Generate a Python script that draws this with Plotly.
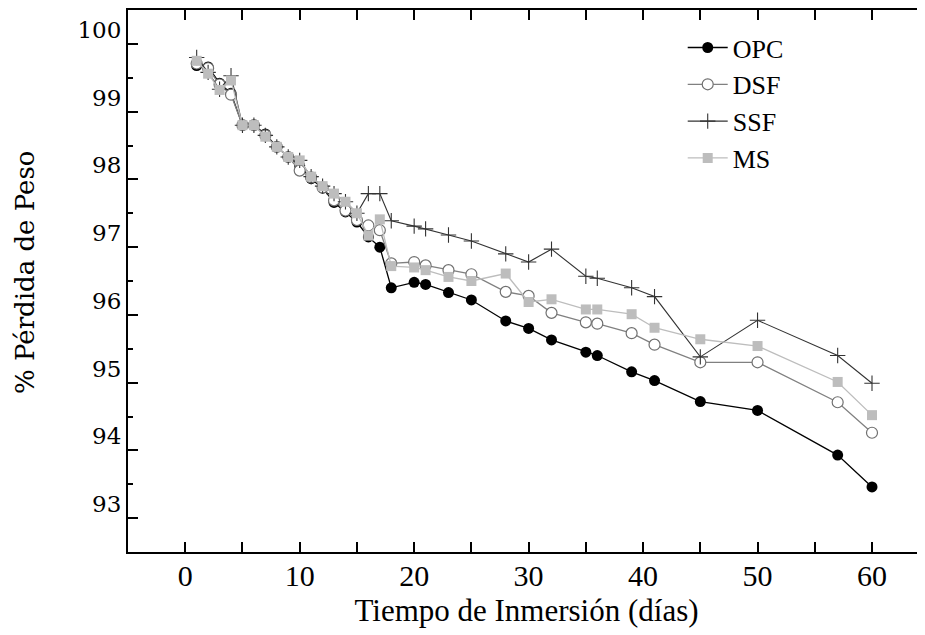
import plotly.graph_objects as go

dias = [1, 2, 3, 4, 5, 6, 7, 8, 9, 10, 11, 12, 13, 14, 15, 16, 17, 18, 20, 21, 23, 25,
        28, 30, 32, 35, 36, 39, 41, 45, 50, 57, 60]

opc = [99.68, 99.66, 99.42, 99.27, 98.80, 98.80, 98.67, 98.48, 98.33, 98.20, 98.01, 97.87,
       97.66, 97.52, 97.37, 97.15, 97.00, 96.40, 96.48, 96.45, 96.33, 96.22,
       95.91, 95.80, 95.63, 95.45, 95.40, 95.16, 95.03, 94.72, 94.59, 93.93, 93.46]
dsf = [99.71, 99.64, 99.40, 99.25, 98.80, 98.80, 98.65, 98.48, 98.33, 98.13, 98.03, 97.88,
       97.69, 97.54, 97.40, 97.32, 97.25, 96.76, 96.78, 96.73, 96.66, 96.60,
       96.34, 96.28, 96.03, 95.89, 95.87, 95.73, 95.56, 95.30, 95.30, 94.71, 94.26]
ssf = [99.80, 99.58, 99.33, 99.53, 98.80, 98.80, 98.65, 98.48, 98.33, 98.28, 98.04, 97.90,
       97.79, 97.67, 97.50, 97.79, 97.79, 97.39, 97.31, 97.27, 97.18, 97.09,
       96.90, 96.78, 96.97, 96.57, 96.54, 96.40, 96.27, 95.38, 95.92, 95.40, 94.99]
ms = [99.75, 99.56, 99.32, 99.46, 98.80, 98.80, 98.63, 98.48, 98.33, 98.28, 98.04, 97.90,
      97.79, 97.67, 97.50, 97.17, 97.41, 96.72, 96.70, 96.66, 96.56, 96.50,
      96.61, 96.19, 96.23, 96.08, 96.08, 96.01, 95.81, 95.64, 95.54, 95.01, 94.52]

series_names = ["OPC", "DSF", "SSF", "MS"]
x_title = "Tiempo de Inmersión (días)"
y_title = "% Pérdida de Peso"

SERIF = "Liberation Serif, Times New Roman, Times, serif"
WIDE_SERIF = "DejaVu Serif, Bitstream Vera Serif, serif"

fig = go.Figure()
fig.add_trace(go.Scatter(x=dias, y=opc, name=series_names[0], mode="lines+markers",
                         line=dict(color="black", width=1.3),
                         marker=dict(symbol="circle", size=11, color="black")))
fig.add_trace(go.Scatter(x=dias, y=dsf, name=series_names[1], mode="lines+markers",
                         line=dict(color="#808080", width=1.3),
                         marker=dict(symbol="circle", size=11, color="white",
                                     line=dict(color="#707070", width=1.2))))
fig.add_trace(go.Scatter(x=dias, y=ssf, name=series_names[2], mode="lines+markers",
                         line=dict(color="#333333", width=1.1),
                         marker=dict(symbol="cross-thin", size=11, color="#333333",
                                     line=dict(color="#333333", width=1.1))))
fig.add_trace(go.Scatter(x=dias, y=ms, name=series_names[3], mode="lines+markers",
                         line=dict(color="#bdbdbd", width=1.3),
                         marker=dict(symbol="square", size=10, color="#bdbdbd")))
# empty helper trace so the right-hand tick axis is drawn
fig.add_trace(go.Scatter(x=[], y=[], yaxis="y2", showlegend=False, hoverinfo="skip"))

yr = [92.5, 100.5]
fig.update_layout(
    width=917, height=627,
    margin=dict(l=120, r=0, t=2, b=83, autoexpand=False),
    paper_bgcolor="white", plot_bgcolor="white",
    showlegend=True,
    legend=dict(x=0.696, y=0.974, xanchor="left", yanchor="top",
                font=dict(family=SERIF, size=26, color="black"),
                bgcolor="rgba(0,0,0,0)", itemwidth=40, tracegroupgap=0),
    xaxis=dict(range=[-5, 64.63], tickmode="array", tickvals=[0, 10, 20, 30, 40, 50, 60],
               ticks="inside", ticklen=10, tickwidth=1.5, tickcolor="black",
               minor=dict(tickvals=[5, 15, 25, 35, 45, 55], ticks="inside", ticklen=5,
                          tickwidth=1.5, tickcolor="black"),
               showline=True, linecolor="black", linewidth=2, mirror="allticks",
               showgrid=False, zeroline=False, automargin=False, ticklabelstandoff=-4,
               tickfont=dict(family=SERIF, size=30, color="black"),
               title=dict(text=x_title, standoff=8,
                          font=dict(family=SERIF, size=31, color="black"))),
    yaxis=dict(range=yr, tickmode="array", tickvals=[93, 94, 95, 96, 97, 98, 99, 100],
               ticks="inside", ticklen=10, tickwidth=1.5, tickcolor="black",
               minor=dict(tickvals=[93.5, 94.5, 95.5, 96.5, 97.5, 98.5, 99.5],
                          ticks="inside", ticklen=5, tickwidth=1.5, tickcolor="black"),
               showline=True, linecolor="black", linewidth=2, mirror=False,
               showgrid=False, zeroline=False, ticklabelshift=-14, automargin=False,
               tickfont=dict(family=WIDE_SERIF, size=23, color="black")),
    yaxis2=dict(range=yr, overlaying="y", side="right", tickmode="array",
                tickvals=[93, 94, 95, 96, 97, 98, 99, 100],
                ticks="inside", ticklen=6, tickwidth=1.5, tickcolor="black",
                minor=dict(tickvals=[93.5, 94.5, 95.5, 96.5, 97.5, 98.5, 99.5],
                           ticks="inside", ticklen=2, tickwidth=1.5, tickcolor="black"),
                showline=False, showgrid=False, zeroline=False, showticklabels=False,
                automargin=False),
    annotations=[dict(text=y_title, textangle=-90, xref="paper", yref="paper",
                      x=-0.129, y=0.515, xanchor="center", yanchor="middle",
                      showarrow=False,
                      font=dict(family=WIDE_SERIF, size=26, color="black"))],
)

fig.write_html("out.html")
